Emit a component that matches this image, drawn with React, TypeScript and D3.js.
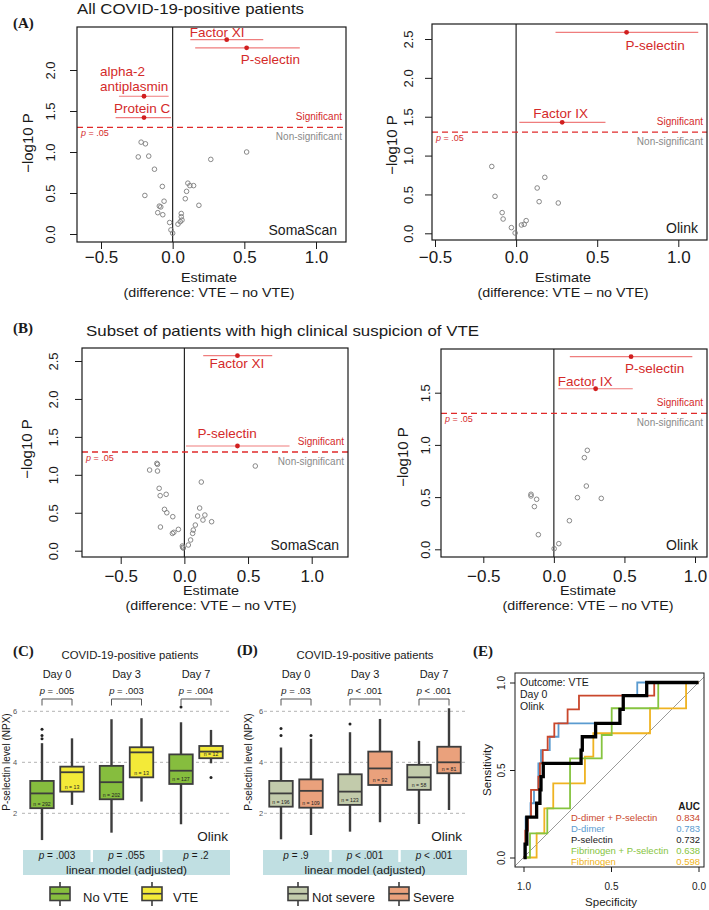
import React, { useEffect, useRef } from 'react';
import * as d3 from 'd3';

const SANS = "'Liberation Sans', Arial, 'DejaVu Sans', sans-serif";
const SERIF = "'Liberation Serif', 'DejaVu Serif', serif";
const RED = '#d42a2a';

// ---------- panel A / B volcano data: [estimate, -log10 P]
const aSomaGray: [number, number][] = [
  [-0.22, 1.12], [-0.19, 1.1], [-0.24, 0.94], [-0.167, 0.95], [-0.127, 0.79], [-0.072, 0.58],
  [-0.194, 0.47], [-0.06, 0.4], [-0.093, 0.34], [-0.083, 0.33], [-0.104, 0.26], [-0.069, 0.235],
  [-0.021, 0.14], [-0.012, 0.05], [0.0, 0.01], [0.037, 0.12], [0.053, 0.15], [0.06, 0.21],
  [0.06, 0.25], [0.065, 0.17], [0.088, 0.43], [0.097, 0.52], [0.106, 0.62], [0.12, 0.59],
  [0.146, 0.59], [0.183, 0.35], [0.266, 0.91], [0.516, 1.0],
];
const aSomaSig = [
  { name: 'Factor XI', est: 0.377, lo: 0.123, hi: 0.632, logP: 2.37 },
  { name: 'P-selectin', est: 0.516, lo: 0.157, hi: 0.887, logP: 2.27 },
  { name: 'alpha-2\nantiplasmin', est: -0.2, lo: -0.375, hi: -0.028, logP: 1.68 },
  { name: 'Protein C', est: -0.2, lo: -0.398, hi: -0.012, logP: 1.42 },
];

const aOlinkGray: [number, number][] = [
  [-0.15, 0.86], [-0.13, 0.476], [-0.086, 0.266], [-0.08, 0.184], [-0.029, 0.073], [-0.006, 0.004],
  [0.033, 0.107], [0.05, 0.116], [0.062, 0.163], [0.13, 0.583], [0.177, 0.72], [0.142, 0.407], [0.26, 0.39],
];
const aOlinkSig = [
  { name: 'P-selectin', est: 0.681, lo: 0.243, hi: 1.123, logP: 2.586 },
  { name: 'Factor IX', est: 0.284, lo: 0.02, hi: 0.551, logP: 1.428 },
];

const bSomaGray: [number, number][] = [
  [-0.273, 1.063], [-0.216, 1.151], [-0.211, 1.138], [-0.211, 1.05], [-0.198, 0.822], [-0.19, 0.725],
  [-0.143, 0.743], [-0.156, 0.545], [-0.138, 0.5], [-0.091, 0.448], [-0.188, 0.312], [-0.047, 0.281],
  [-0.094, 0.228], [-0.083, 0.242], [-0.016, 0.062], [-0.013, 0.044], [-0.008, 0.035], [0.031, 0.075],
  [0.049, 0.141], [0.065, 0.228], [0.07, 0.272], [0.086, 0.338], [0.104, 0.457], [0.12, 0.562],
  [0.146, 0.404], [0.161, 0.47], [0.133, 0.905], [0.214, 0.382], [0.557, 1.116],
];
const bSomaSig = [
  { name: 'Factor XI', est: 0.417, lo: 0.148, hi: 0.69, logP: 2.57 },
  { name: 'P-selectin', est: 0.417, lo: 0.013, hi: 0.826, logP: 1.38 },
];

const bOlinkGray: [number, number][] = [
  [-0.162, 0.527], [-0.162, 0.511], [-0.122, 0.479], [-0.138, 0.409], [-0.11, 0.14], [0.002, 0.006],
  [0.035, 0.054], [0.11, 0.274], [0.167, 0.495], [0.216, 0.878], [0.237, 0.948], [0.23, 0.606], [0.336, 0.488],
];
const bOlinkSig = [
  { name: 'P-selectin', est: 0.547, lo: 0.113, hi: 0.981, logP: 1.845 },
  { name: 'Factor IX', est: 0.296, lo: 0.031, hi: 0.559, logP: 1.538 },
];

const estTicks = [-0.5, 0, 0.5, 1];

// ---------- panel C / D boxplots (P-selectin NPX)
const dayLabels = ['Day 0', 'Day 3', 'Day 7'];
const cNoVte = [
  { lo: 0.95, q1: 2.2, med: 2.78, q3: 3.27, hi: 4.75, out: [4.92, 5.05, 5.3], n: 292 },
  { lo: 1.24, q1: 2.55, med: 3.22, q3: 3.86, hi: 5.69, out: [], n: 202 },
  { lo: 1.57, q1: 3.15, med: 3.67, q3: 4.31, hi: 5.57, out: [6.17], n: 127 },
];
const cVte = [
  { lo: 2.33, q1: 2.85, med: 3.61, q3: 3.83, hi: 4.94, out: [], n: 13 },
  { lo: 2.46, q1: 3.41, med: 4.39, q3: 4.59, hi: 5.73, out: [], n: 13 },
  { lo: 3.96, q1: 4.16, med: 4.42, q3: 4.64, hi: 5.27, out: [3.4], n: 12 },
];
const cPairP = ['= .005', '= .003', '= .004'];
const cModelP = ['= .003', '= .055', '= .2'];

const dNotSevere = [
  { lo: 0.98, q1: 2.26, med: 2.78, q3: 3.27, hi: 4.58, out: [5.05, 5.33], n: 196 },
  { lo: 1.28, q1: 2.33, med: 2.85, q3: 3.53, hi: 5.18, out: [5.5], n: 123 },
  { lo: 1.58, q1: 2.92, med: 3.41, q3: 3.9, hi: 4.84, out: [], n: 58 },
];
const dSevere = [
  { lo: 1.15, q1: 2.22, med: 2.88, q3: 3.33, hi: 4.92, out: [5.05], n: 109 },
  { lo: 1.65, q1: 3.11, med: 3.76, q3: 4.42, hi: 5.7, out: [], n: 92 },
  { lo: 2.13, q1: 3.57, med: 4.0, q3: 4.61, hi: 6.12, out: [], n: 81 },
];
const dPairP = ['= .03', '< .001', '< .001'];
const dModelP = ['= .9', '< .001', '< .001'];
const npxTicks = [2, 4, 6];

// ---------- panel E ROC curves: [specificity, sensitivity] at each step
const rocDdimerPsel: [number, number][] = [
  [1, 0], [0.99, 0.154], [0.975, 0.231], [0.957, 0.386], [0.915, 0.462], [0.906, 0.538], [0.89, 0.614],
  [0.862, 0.69], [0.824, 0.767], [0.748, 0.847], [0.683, 0.925], [0.253, 1], [0, 1],
];
const rocDdimer: [number, number][] = [
  [1, 0], [0.988, 0.231], [0.96, 0.31], [0.94, 0.386], [0.915, 0.538], [0.9, 0.614], [0.85, 0.69],
  [0.8, 0.767], [0.449, 0.847], [0.43, 0.925], [0.35, 1], [0, 1],
];
const rocPsel: [number, number][] = [
  [1, 0], [0.991, 0.077], [0.981, 0.231], [0.925, 0.31], [0.906, 0.386], [0.9, 0.462], [0.887, 0.538],
  [0.671, 0.614], [0.664, 0.69], [0.588, 0.767], [0.449, 0.847], [0.43, 0.925], [0.296, 1], [0, 1],
];
const rocFibPsel: [number, number][] = [
  [1, 0], [0.963, 0.138], [0.864, 0.281], [0.734, 0.567], [0.553, 0.7], [0.496, 0.853], [0.23, 1], [0, 1],
];
const rocFib: [number, number][] = [
  [1, 0], [0.925, 0.138], [0.881, 0.281], [0.83, 0.424], [0.649, 0.576], [0.601, 0.71], [0.277, 0.852],
  [0.071, 1], [0, 1],
];
const rocNames = ['D-dimer + P-selectin', 'D-dimer', 'P-selectin', 'Fibrinogen + P-selectin', 'Fibrinogen'];
const rocAuc = ['0.834', '0.783', '0.732', '0.638', '0.598'];
const rocColors = ['#c9472c', '#5a9bd0', '#000000', '#86c440', '#efb321'];

type Sel = d3.Selection<any, unknown, null, undefined>;

const txt = (g: Sel, x: number, y: number, s: string, size: number, o: any = {}) => {
  const t = g.append('text')
    .attr('x', x).attr('y', y)
    .attr('font-family', o.family || SANS)
    .attr('font-size', size)
    .attr('font-weight', o.weight || 'normal')
    .attr('fill', o.fill || '#1a1a1a')
    .attr('text-anchor', o.anchor || 'start')
    .text(s);
  if (o.len) t.attr('textLength', o.len).attr('lengthAdjust', 'spacingAndGlyphs');
  return t;
};

const pText = (g: Sel, x: number, y: number, rest: string, size: number, anchor = 'middle', fill = '#1a1a1a') => {
  const t = g.append('text').attr('x', x).attr('y', y).attr('font-family', SANS)
    .attr('font-size', size).attr('fill', fill).attr('text-anchor', anchor);
  t.append('tspan').attr('font-style', 'italic').text('p');
  t.append('tspan').text(' ' + rest);
  return t;
};

const drawVolcano = (svg: Sel, c: any) => {
  const [bx0, by0, bx1, by1] = c.box;
  const x = d3.scaleLinear().domain([-0.5, 1]).range(c.xr);
  const y = d3.scaleLinear().domain([0, c.yMax]).range(c.yr);
  const g = svg.append('g');

  g.append('line').attr('x1', x(0)).attr('x2', x(0)).attr('y1', by0).attr('y2', by1)
    .attr('stroke', '#111').attr('stroke-width', 1.1);

  const yT = y(-Math.log10(0.05));
  g.append('line').attr('x1', bx0).attr('x2', bx1).attr('y1', yT).attr('y2', yT)
    .attr('stroke', '#e02a2a').attr('stroke-width', 1.3).attr('stroke-dasharray', '6,4');
  txt(g, bx1 - 4, yT - 7, 'Significant', 10, { anchor: 'end', fill: RED });
  txt(g, bx1 - 4, yT + 13, 'Non-significant', 10, { anchor: 'end', fill: '#8a8a8a' });
  pText(g, bx0 + 4, yT + 9, '= .05', 9, 'start', RED);

  g.selectAll('circle.ns').data(c.gray).join('circle')
    .attr('cx', (d: any) => x(d[0])).attr('cy', (d: any) => y(d[1])).attr('r', 2.3)
    .attr('fill', 'none').attr('stroke', '#7c7c7c').attr('stroke-width', 0.9);

  c.sig.forEach((s: any) => {
    const px = x(s.est), py = y(s.logP);
    g.append('line').attr('x1', x(s.lo)).attr('x2', x(s.hi)).attr('y1', py).attr('y2', py)
      .attr('stroke', '#ef7d7d').attr('stroke-width', 1.2);
    g.append('circle').attr('cx', px).attr('cy', py).attr('r', 2.4).attr('fill', '#d11f1f');
    const nd = c.nudges[s.name];
    const ls = s.name.split('\n');
    const dys = Array.isArray(nd.dy) ? nd.dy : [nd.dy];
    ls.forEach((l: string, i: number) => txt(g, px + nd.dx, py + dys[i], l, 13.5, { fill: RED }));
  });

  g.append('rect').attr('x', bx0).attr('y', by0).attr('width', bx1 - bx0).attr('height', by1 - by0)
    .attr('fill', 'none').attr('stroke', '#1a1a1a').attr('stroke-width', 1.2);

  const ax = g.append('g').attr('transform', `translate(0,${by1})`)
    .call(d3.axisBottom(x).tickValues(estTicks).tickFormat(d3.format('.1f')).tickSize(c.tick).tickSizeOuter(0));
  ax.select('.domain').remove();
  ax.selectAll('line').attr('stroke', '#1a1a1a');
  ax.selectAll('text').attr('y', c.tickBase - by1).attr('dy', 0)
    .attr('font-family', SANS).attr('font-size', 17).attr('fill', '#1a1a1a');

  const ay = g.append('g').attr('transform', `translate(${bx0},0)`)
    .call(d3.axisLeft(y).tickValues(c.yTicks).tickFormat(d3.format('.1f')).tickSize(c.tick).tickSizeOuter(0));
  ay.select('.domain').remove();
  ay.selectAll('line').attr('stroke', '#1a1a1a');
  ay.selectAll('text').attr('x', 0).attr('y', -(bx0 - c.tickLabX)).attr('dy', 0)
    .attr('text-anchor', 'middle').attr('transform', 'rotate(-90)')
    .attr('font-family', SANS).attr('font-size', 13).attr('fill', '#1a1a1a');

  txt(g, c.xlabCx, c.estBase, 'Estimate', 13, { anchor: 'middle', len: 56 });
  txt(g, c.xlabCx, c.diffBase, '(difference: VTE \u2013 no VTE)', 13, { anchor: 'middle', len: 171 });
  g.append('text').attr('transform', `translate(${c.ylabX},${c.ylabCy}) rotate(-90)`)
    .attr('text-anchor', 'middle').attr('font-family', SANS).attr('font-size', 15).attr('fill', '#1a1a1a')
    .text('\u2212log10 P');
  txt(g, bx1 - 9, by1 - 7, c.platform, 14, { anchor: 'end' });
};

const drawBoxPanel = (svg: Sel, c: any) => {
  const g = svg.append('g');
  const y = d3.scaleLinear().domain([2, 6]).range([813.3, 711.3]);
  const day = d3.scalePoint().domain(dayLabels).range(c.dayRange);
  const half = 15, w = 23.5;

  npxTicks.forEach((t) => {
    g.append('line').attr('x1', c.grid[0]).attr('x2', c.grid[1]).attr('y1', y(t)).attr('y2', y(t))
      .attr('stroke', '#b3b3b3').attr('stroke-width', 1).attr('stroke-dasharray', '3,3');
  });
  const ay = g.append('g').attr('transform', `translate(${c.tickX},0)`)
    .call(d3.axisLeft(y).tickValues(npxTicks).tickFormat(d3.format('d')).tickSize(0).tickPadding(0));
  ay.select('.domain').remove();
  ay.selectAll('text').attr('text-anchor', 'middle').attr('x', 0).attr('dy', '0.35em')
    .attr('font-family', SANS).attr('font-size', 7.5).attr('fill', '#555');

  g.append('text').attr('transform', `translate(${c.ylabX},762) rotate(-90)`)
    .attr('text-anchor', 'middle').attr('font-family', SANS).attr('font-size', 10).attr('fill', '#1a1a1a')
    .text('P-selectin level (NPX)');

  txt(g, c.titleCx, 659, 'COVID-19-positive patients', 11, { anchor: 'middle', len: 137 });

  const drawBox = (cx: number, s: any, fill: string) => {
    const col = '#3d3d3d';
    g.append('line').attr('x1', cx).attr('x2', cx).attr('y1', y(s.hi)).attr('y2', y(s.q3))
      .attr('stroke', col).attr('stroke-width', 2.4);
    g.append('line').attr('x1', cx).attr('x2', cx).attr('y1', y(s.q1)).attr('y2', y(s.lo))
      .attr('stroke', col).attr('stroke-width', 2.4);
    g.append('rect').attr('x', cx - w / 2).attr('y', y(s.q3)).attr('width', w).attr('height', y(s.q1) - y(s.q3))
      .attr('fill', fill).attr('stroke', col).attr('stroke-width', 1.8);
    g.append('line').attr('x1', cx - w / 2).attr('x2', cx + w / 2).attr('y1', y(s.med)).attr('y2', y(s.med))
      .attr('stroke', col).attr('stroke-width', 1.8);
    s.out.forEach((o: number) => {
      g.append('circle').attr('cx', cx).attr('cy', y(o)).attr('r', 1.5).attr('fill', '#222');
    });
    txt(g, cx, y(s.q1) - 2.5, `n = ${s.n}`, 5.2, { anchor: 'middle', fill: '#222' });
  };

  dayLabels.forEach((dl, i) => {
    const cx = day(dl) as number;
    txt(g, cx, 678, dl, 11, { anchor: 'middle' });
    pText(g, cx, 694, c.pairP[i], 9.5);
    g.append('path').attr('d', `M${cx - half},705.5V699H${cx + half}V705.5`)
      .attr('fill', 'none').attr('stroke', '#555').attr('stroke-width', 1);
    drawBox(cx - half, c.a[i], c.colors[0]);
    drawBox(cx + half, c.b[i], c.colors[1]);
  });

  txt(g, c.grid[1] - 4, 841, 'Olink', 13.5, { anchor: 'end' });

  // model band
  g.append('rect').attr('x', c.band[0]).attr('y', 850).attr('width', c.band[1] - c.band[0]).attr('height', 25)
    .attr('fill', '#c0dfe2');
  const cen = dayLabels.map((d) => day(d) as number);
  [0, 1].forEach((i) => {
    const sx = (cen[i] + cen[i + 1]) / 2;
    g.append('line').attr('x1', sx).attr('x2', sx).attr('y1', 850).attr('y2', 862)
      .attr('stroke', '#fff').attr('stroke-width', 2.5);
  });
  cen.forEach((cx, i) => pText(g, cx, 858.5, c.modelP[i], 10));
  txt(g, (c.band[0] + c.band[1]) / 2, 873.5, 'linear model (adjusted)', 11, { anchor: 'middle', len: 121 });

  // legend
  c.legend.forEach((lg: any, i: number) => {
    const col = '#3d3d3d';
    g.append('line').attr('x1', lg.x).attr('x2', lg.x).attr('y1', 882).attr('y2', 906)
      .attr('stroke', col).attr('stroke-width', 1.6);
    g.append('rect').attr('x', lg.x - 10).attr('y', 887).attr('width', 20).attr('height', 13.5)
      .attr('fill', c.colors[i]).attr('stroke', col).attr('stroke-width', 1.6);
    g.append('line').attr('x1', lg.x - 10).attr('x2', lg.x + 10).attr('y1', 893.7).attr('y2', 893.7)
      .attr('stroke', col).attr('stroke-width', 1.6);
    txt(g, lg.tx, 902, lg.label, 13);
  });
};

const drawRoc = (svg: Sel) => {
  const g = svg.append('g');
  const box = [515, 673, 704, 867];
  const x = d3.scaleLinear().domain([1, 0]).range([523.5, 698.5]);
  const y = d3.scaleLinear().domain([0, 1]).range([857.5, 682.5]);

  g.append('clipPath').attr('id', 'rocclip').append('rect')
    .attr('x', box[0]).attr('y', box[1]).attr('width', box[2] - box[0]).attr('height', box[3] - box[1]);
  const inner = g.append('g').attr('clip-path', 'url(#rocclip)');
  inner.append('line').attr('x1', x(1.1)).attr('y1', y(-0.1)).attr('x2', x(-0.1)).attr('y2', y(1.1))
    .attr('stroke', '#9a9a9a').attr('stroke-width', 1);

  const line = d3.line<[number, number]>().x((d) => x(d[0])).y((d) => y(d[1])).curve(d3.curveStepAfter);
  const curves = [rocDdimerPsel, rocDdimer, rocPsel, rocFibPsel, rocFib];
  [4, 3, 1, 0, 2].forEach((i) => {
    inner.append('path').attr('d', line(curves[i]) as string).attr('fill', 'none')
      .attr('stroke', rocColors[i]).attr('stroke-width', i === 2 ? 3.3 : 1.8)
      .attr('stroke-linejoin', 'miter');
  });

  g.append('rect').attr('x', box[0]).attr('y', box[1]).attr('width', box[2] - box[0]).attr('height', box[3] - box[1])
    .attr('fill', 'none').attr('stroke', '#1a1a1a').attr('stroke-width', 1);

  const ax = g.append('g').attr('transform', `translate(0,${box[3]})`)
    .call(d3.axisBottom(x).tickValues([1, 0.5, 0]).tickFormat(d3.format('.1f')).tickSize(5).tickSizeOuter(0));
  ax.select('.domain').remove();
  ax.selectAll('line').attr('stroke', '#1a1a1a');
  ax.selectAll('text').attr('y', 889.5 - box[3]).attr('dy', 0).attr('font-family', SANS).attr('font-size', 10).attr('fill', '#1a1a1a');

  const ay = g.append('g').attr('transform', `translate(${box[0]},0)`)
    .call(d3.axisLeft(y).tickValues([0, 0.5, 1]).tickFormat(d3.format('.1f')).tickSize(5).tickSizeOuter(0));
  ay.select('.domain').remove();
  ay.selectAll('line').attr('stroke', '#1a1a1a');
  ay.selectAll('text').attr('x', 0).attr('y', -(box[0] - 505)).attr('dy', 0).attr('text-anchor', 'middle')
    .attr('transform', 'rotate(-90)').attr('font-family', SANS).attr('font-size', 10).attr('fill', '#1a1a1a');

  txt(g, 611, 905.5, 'Specificity', 11.5, { anchor: 'middle' });
  g.append('text').attr('transform', 'translate(491,770) rotate(-90)').attr('text-anchor', 'middle')
    .attr('font-family', SANS).attr('font-size', 11.5).attr('fill', '#1a1a1a').text('Sensitivity');

  ['Outcome: VTE', 'Day 0', 'Olink'].forEach((s, i) => txt(g, 520, 686 + i * 12, s, 10.5));

  txt(g, 700, 810, 'AUC', 10, { anchor: 'end', weight: 'bold' });
  rocNames.forEach((n, i) => {
    const col = i === 2 ? '#1a1a1a' : rocColors[i];
    txt(g, 571, 821 + i * 11, n, 9.5, { fill: col });
    txt(g, 700, 821 + i * 11, rocAuc[i], 9.5, { fill: col, anchor: 'end' });
  });
};

const App = () => {
  const ref = useRef<SVGSVGElement>(null);

  useEffect(() => {
    const svg = d3.select(ref.current) as any;
    svg.selectAll('*').remove();

    svg.append('rect').attr('width', 709).attr('height', 910).attr('fill', '#fff');

    // panel letters and titles
    [['(A)', 13, 28], ['(B)', 13, 333], ['(C)', 13, 656], ['(D)', 237, 655], ['(E)', 473, 656]].forEach((p: any) =>
      txt(svg, p[1], p[2], p[0], 15, { family: SERIF, weight: 'bold' }));
    txt(svg, 77, 13.5, 'All COVID-19-positive patients', 14.5, { len: 227 });
    txt(svg, 86, 336, 'Subset of patients with high clinical suspicion of VTE', 14.5, { len: 393 });

    drawVolcano(svg, {
      gray: aSomaGray, sig: aSomaSig, platform: 'SomaScan',
      box: [77, 27, 346, 242], xr: [101, 316], yr: [234, 70], yMax: 2, yTicks: [0, 0.5, 1, 1.5, 2],
      tick: 7, tickBase: 263, estBase: 282, diffBase: 297, xlabCx: 209, tickLabX: 55, ylabX: 33, ylabCy: 143,
      nudges: {
        'Factor XI': { dx: -37, dy: -3 }, 'P-selectin': { dx: -6, dy: 16 },
        'alpha-2\nantiplasmin': { dx: -44, dy: [-20, -5] }, 'Protein C': { dx: -30, dy: -5 },
      },
    });
    drawVolcano(svg, {
      gray: aOlinkGray, sig: aOlinkSig, platform: 'Olink',
      box: [432, 24, 707, 240], xr: [435, 678.3], yr: [233.3, 39], yMax: 2.5, yTicks: [0, 0.5, 1, 1.5, 2, 2.5],
      tick: 7, tickBase: 263, estBase: 282, diffBase: 297, xlabCx: 563, tickLabX: 413, ylabX: 397, ylabCy: 145,
      nudges: { 'P-selectin': { dx: -1, dy: 18 }, 'Factor IX': { dx: -29, dy: -4 } },
    });
    drawVolcano(svg, {
      gray: bSomaGray, sig: bSomaSig, platform: 'SomaScan',
      box: [82, 348, 348, 557], xr: [120.7, 311.7], yr: [550.7, 361], yMax: 2.5, yTicks: [0, 0.5, 1, 1.5, 2, 2.5],
      tick: 7, tickBase: 582, estBase: 595, diffBase: 610, xlabCx: 211, tickLabX: 58, ylabX: 32, ylabCy: 449,
      nudges: { 'Factor XI': { dx: -28, dy: 12 }, 'P-selectin': { dx: -40, dy: -8 } },
    });
    drawVolcano(svg, {
      gray: bOlinkGray, sig: bOlinkSig, platform: 'Olink',
      box: [441, 349, 707, 557], xr: [483.3, 695], yr: [549.3, 392.7], yMax: 1.5, yTicks: [0, 0.5, 1, 1.5],
      tick: 6, tickBase: 582, estBase: 595, diffBase: 610, xlabCx: 588, tickLabX: 430, ylabX: 408, ylabCy: 457,
      nudges: { 'P-selectin': { dx: -6, dy: 16 }, 'Factor IX': { dx: -38, dy: -3 } },
    });

    drawBoxPanel(svg, {
      a: cNoVte, b: cVte, pairP: cPairP, modelP: cModelP, colors: ['#86bd3e', '#f3ea38'],
      dayRange: [57, 196], grid: [22, 232], tickX: 15, ylabX: 10, titleCx: 130, band: [23, 230],
      legend: [{ x: 60, tx: 83, label: 'No VTE' }, { x: 152, tx: 173, label: 'VTE' }],
    });
    drawBoxPanel(svg, {
      a: dNotSevere, b: dSevere, pairP: dPairP, modelP: dModelP, colors: ['#c2cbab', '#eaa17c'],
      dayRange: [296, 434], grid: [264, 466], tickX: 261, ylabX: 252, titleCx: 365, band: [263, 467],
      legend: [{ x: 298, tx: 312, label: 'Not severe' }, { x: 399, tx: 413, label: 'Severe' }],
    });

    drawRoc(svg);
  }, []);

  return (
    <svg ref={ref} width={709} height={910}
      style={{ position: 'absolute', left: 0, top: 0, display: 'block' }} />
  );
};

export default App;
